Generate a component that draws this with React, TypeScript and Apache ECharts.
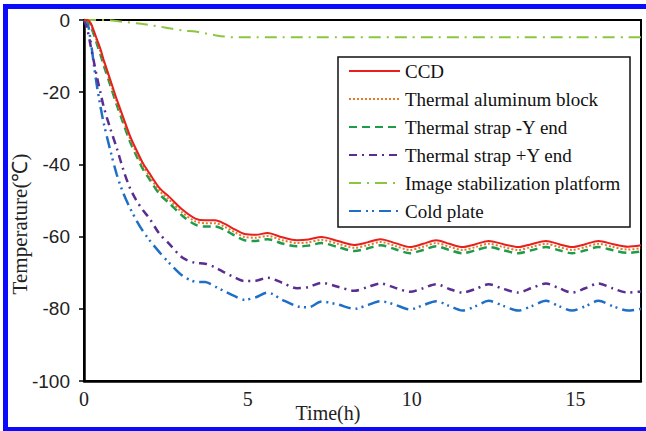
import React, { useEffect, useRef } from "react";
import * as echarts from "echarts";

const times = [0, 0.1, 0.2, 0.3, 0.4, 0.5, 0.6, 0.8, 1.0, 1.2, 1.4, 1.6, 1.8, 2.0, 2.3, 2.6, 3.0, 3.4, 3.7, 4.0, 4.3, 4.6, 4.9, 5.25, 5.6, 6.05, 6.5, 6.85, 7.25, 7.75, 8.25, 8.65, 9.05, 9.5, 9.95, 10.35, 10.75, 11.15, 11.55, 11.95, 12.35, 12.8, 13.25, 13.65, 14.1, 14.5, 14.9, 15.3, 15.7, 16.15, 16.6, 17];

const ccd = [0, 0, -0.8, -3, -5.5, -8, -11, -16.5, -22, -27, -32, -36, -39.7, -42.5, -46.5, -49, -52.5, -55, -55.5, -55.5, -56.5, -58, -59.3, -59.5, -59, -60.2, -61, -60.8, -60.1, -61.2, -62.3, -61.6, -60.7, -61.8, -62.9, -62, -61, -62, -62.9, -62.1, -61.2, -62.1, -62.9, -62.1, -61.2, -62.1, -62.9, -62.1, -61.2, -62.1, -62.8, -62.4];

const aluminum = [0, 0, -1.2, -3.5, -6, -8.7, -11.7, -17.2, -22.7, -27.8, -32.8, -36.8, -40.5, -43.3, -47.3, -49.8, -53.3, -55.8, -56.3, -56.3, -57.3, -58.8, -60.1, -60.3, -59.8, -61, -61.8, -61.6, -60.9, -62, -63.1, -62.4, -61.5, -62.6, -63.7, -62.8, -61.8, -62.8, -63.7, -62.9, -62, -62.9, -63.7, -62.9, -62, -62.9, -63.7, -62.9, -62, -62.9, -63.6, -63.2];

const strapMinusY = [0, -0.2, -1.6, -4, -6.8, -9.5, -12.5, -18, -23.5, -28.6, -33.6, -37.6, -41.3, -44.1, -48.2, -50.7, -54.2, -56.7, -57.2, -57.2, -58.2, -59.7, -61, -61.2, -60.7, -61.9, -62.7, -62.5, -61.8, -62.9, -64, -63.3, -62.4, -63.5, -64.6, -63.7, -62.7, -63.7, -64.6, -63.8, -62.9, -63.8, -64.6, -63.8, -62.9, -63.8, -64.6, -63.8, -62.9, -63.8, -64.5, -64.1];

const strapPlusY = [0, -2.5, -7, -11.5, -16, -20, -24, -30, -35.5, -41.5, -46.5, -50, -52.7, -55, -59.2, -62, -65.8, -67.3, -67.5, -68.5, -70, -71.3, -72.3, -72.2, -71.4, -72.8, -74.3, -74, -72.8, -73.9, -75, -74, -73, -74.2, -75.3, -74.3, -73.2, -74.5, -75.5, -74.5, -73.2, -74.5, -75.5, -74.3, -73, -74.3, -75.5, -74.3, -73, -74.4, -75.5, -75.2];

const platform = [0, 0, 0, 0, 0, 0, 0, -0.1, -0.3, -0.5, -0.7, -0.9, -1.1, -1.4, -1.8, -2.3, -2.9, -3.2, -3.7, -4.2, -4.6, -4.8, -4.8, -4.8, -4.8, -4.8, -4.8, -4.8, -4.8, -4.8, -4.8, -4.8, -4.8, -4.8, -4.8, -4.8, -4.8, -4.8, -4.8, -4.8, -4.8, -4.8, -4.8, -4.8, -4.8, -4.8, -4.8, -4.8, -4.8, -4.8, -4.8, -4.8];

const coldPlate = [0, -0.5, -5.5, -12.3, -18.6, -23.8, -28.5, -36, -42.8, -48, -52, -55.5, -58.5, -61, -64.3, -67.3, -70.8, -72.5, -72.6, -73.8, -75.2, -76.5, -77.5, -76.8, -75.5, -77.5, -79.3, -79.6, -78, -78.8, -80, -79, -77.9, -78.9, -80.2, -79, -77.9, -79.2, -80.5, -79.3, -77.8, -79.2, -80.5, -79.3, -77.8, -79.3, -80.5, -79.3, -77.8, -79.3, -80.5, -80];

const seriesNames = ["CCD", "Thermal aluminum block", "Thermal strap -Y end", "Thermal strap +Y end", "Image stabilization platform", "Cold plate"];
const seriesValues = [ccd, aluminum, strapMinusY, strapPlusY, platform, coldPlate];
const seriesColors = ["#e8201c", "#e3792c", "#1e9c4a", "#5a2d90", "#8cc63f", "#1f6fc6"];
const seriesDash: (string | number[])[] = ["solid", [2, 2], [8, 5], [8, 5, 2, 5], [12, 6, 2, 6], [12, 5, 2, 4, 2, 5]];
const seriesWidth = [2, 2, 2.5, 2.5, 2, 2.5];

const SERIF = "Liberation Serif";
const SANS = "Liberation Sans";

export default function App() {
  const ref = useRef<HTMLDivElement>(null);
  useEffect(() => {
    if (!ref.current) return;
    const chart = echarts.init(ref.current, undefined, { renderer: "svg" });
    const series = seriesNames.map((name, i) => ({
      name,
      type: "line",
      data: times.map((t, j) => [t, seriesValues[i][j]]),
      showSymbol: false,
      symbol: "none",
      smooth: 0.3,
      z: 2 + (seriesNames.length - i),
      lineStyle: { color: seriesColors[i], width: seriesWidth[i], type: seriesDash[i] },
      itemStyle: { color: seriesColors[i] },
    }));
    chart.setOption({
      animation: false,
      backgroundColor: "#ffffff",
      textStyle: { fontFamily: SERIF },
      grid: { left: 84, top: 20, right: 5, bottom: 50, show: true, borderColor: "#000", borderWidth: 2, backgroundColor: "transparent" },
      xAxis: {
        type: "value",
        min: 0,
        max: 17,
        interval: 5,
        axisLine: { show: true, onZero: false, lineStyle: { color: "#000", width: 2.5 } },
        axisTick: { show: false },
        splitLine: { show: false },
        axisLabel: { showMaxLabel: false, fontFamily: SERIF, fontSize: 20, color: "#222", margin: 8 },
      },
      yAxis: {
        type: "value",
        min: -100,
        max: 0,
        interval: 20,
        axisLine: { show: true, onZero: false, lineStyle: { color: "#000", width: 2.5 } },
        axisTick: { show: true, inside: false, length: 5, lineStyle: { color: "#000", width: 1.5 } },
        splitLine: { show: false },
        axisLabel: { fontFamily: SANS, fontSize: 19, color: "#222", margin: 14 },
      },
      legend: {
        orient: "vertical",
        left: 338,
        top: 57,
        padding: [3, 4, 5, 10],
        itemWidth: 51,
        itemHeight: 14,
        itemGap: 6,
        z: 10,
        data: seriesNames,
        itemStyle: { opacity: 0 },
        textStyle: { fontFamily: SERIF, fontSize: 19, color: "#111", lineHeight: 22 },
      },
      graphic: [
        {
          type: "rect",
          z: 5,
          shape: { x: 338, y: 57, width: 292, height: 170 },
          style: { fill: "#fff", stroke: "#111", lineWidth: 1.5 },
        },
        { type: "rect", z: 20, shape: { x: 3, y: 4, width: 5, height: 427 }, style: { fill: "#0a0aff" } },
        { type: "rect", z: 20, shape: { x: 3, y: 4, width: 643, height: 5 }, style: { fill: "#0a0aff" } },
        { type: "rect", z: 20, shape: { x: 3, y: 427, width: 643, height: 4 }, style: { fill: "#0a0aff" } },
        { type: "rect", z: 30, shape: { x: 642.5, y: 9, width: 4, height: 418 }, style: { fill: "#ffffff" } },
        {
          type: "text",
          z: 20,
          x: 328,
          y: 413,
          style: { text: "Time(h)", fontFamily: SERIF, fontSize: 20, fill: "#222", textAlign: "center", textVerticalAlign: "middle" },
        },
        {
          type: "text",
          z: 20,
          x: 20,
          y: 224,
          rotation: Math.PI / 2,
          style: { text: "Temperature(℃)", fontFamily: SERIF, fontSize: 21, fill: "#222", textAlign: "center", textVerticalAlign: "middle" },
        },
      ],
      series,
    });
    return () => chart.dispose();
  }, []);
  return <div ref={ref} style={{ position: "absolute", left: 0, top: 0, width: 646, height: 431 }} />;
}
